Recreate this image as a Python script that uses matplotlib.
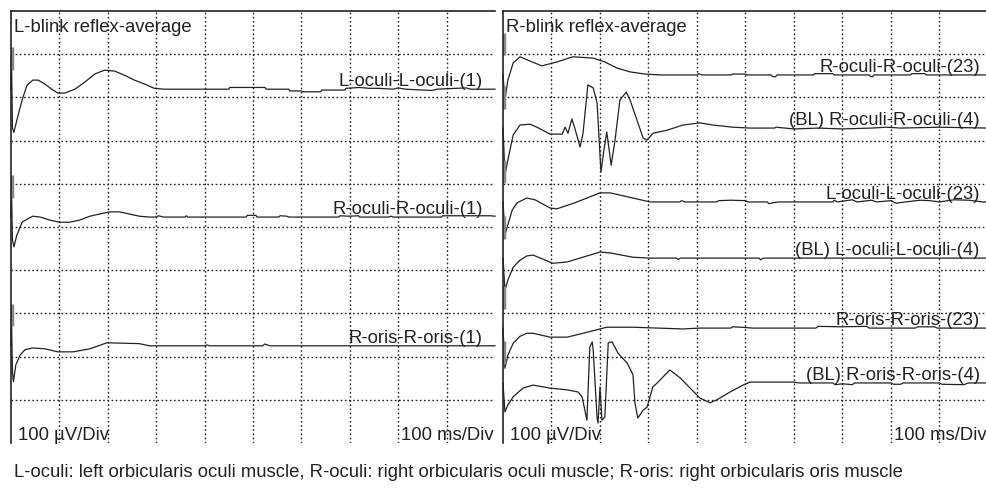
import matplotlib.pyplot as plt

plt.rcParams['font.family'] = ['Liberation Sans', 'DejaVu Sans']

# ---- waveform key points: time (ms) and amplitude (uV, relative to trace baseline) ----
# left panel: L-blink reflex-average
l_oculi_1_t = [1, 3, 6, 12, 23, 33, 45, 56, 70, 84, 97, 111, 132, 152, 173, 193, 214, 235, 255, 276, 296, 317,
               450, 452, 525, 527, 574, 576, 600, 602, 640, 642, 690, 692, 720, 740, 760, 790, 800, 815, 870, 880, 940, 950, 1000]
l_oculi_1_v = [67, -90, -100, -72, -25, 9, 21, 21, 12, 0, -9, -9, 0, 16, 35, 44, 42, 32, 21, 12, 2, 0,
               0, 4, 4, 0, 0, -4, -4, -6, -6, -2, -2, 2, 4, 2, 2, 0, 3, 0, -3, 0, 3, 0, 0]

r_oculi_1_t = [1, 3, 6, 12, 23, 33, 45, 60, 80, 101, 121, 142, 163, 183, 204, 224, 245, 265, 286,
               300, 305, 315, 360, 362, 365, 486, 488, 506, 508, 553, 556, 570, 574, 677, 680, 700, 718, 720, 780, 785, 790, 889, 892, 990, 1000]
r_oculi_1_v = [62, -53, -69, -42, -12, -5, 2, 0, -7, -12, -12, -7, 2, 7, 12, 12, 7, 2, 0,
               0, 3, 0, 0, 3, 0, 0, 4, 4, 0, 0, 3, 2, 0, 0, 3, 2, 3, 0, 0, 2, 0, 0, 3, 3, 2]

r_oris_1_t = [1, 3, 5, 10, 19, 29, 45, 70, 97, 128, 163, 198, 265, 286, 400, 405, 410, 520, 524, 530, 534, 1000]
r_oris_1_v = [60, -60, -83, -44, -21, -9, -5, -7, -14, -14, -7, 7, 5, 0, 0, 2, 0, 0, 4, 2, 0, 0]

# right panel: R-blink reflex-average
r_oculi_23_t = [4, 10, 21, 35, 56, 80, 111, 144, 186, 210, 235, 262, 293, 324, 400, 403, 410, 470, 473, 500, 503,
                553, 556, 562, 565, 640, 643, 680, 683, 755, 758, 762, 765, 840, 843, 870, 873, 1000]
r_oculi_23_v = [-58, -12, 28, 42, 32, 21, 30, 42, 39, 30, 16, 7, 2, 0, 0, 3, 0, 0, 2, 2, 0,
                0, -4, -4, 0, 0, 3, 3, 0, 0, -4, -4, 0, 0, 3, 3, 0, 0]

bl_r_oculi_4_t = [4, 10, 21, 35, 56, 70, 97, 122, 128, 134, 142, 148, 159, 165, 175, 186, 194, 202, 208, 214, 223, 231,
                  241, 254, 262, 276, 289, 297, 309, 338, 371, 406, 433, 474, 509, 560, 563, 600, 650, 700, 760, 790, 820, 900, 1000]
bl_r_oculi_4_v = [-109, -74, -16, 7, 9, 2, -14, -14, 2, -12, 21, 0, -44, -12, 100, 93, 58, -102, -51, -9, -86, -28,
                  65, 83, 65, 19, -23, -28, -12, -5, 7, 12, 7, 2, 0, 0, 2, -2, 0, -2, 0, 2, 0, 2, 0]

l_oculi_23_t = [4, 10, 19, 29, 49, 66, 97, 111, 148, 200, 221, 268, 303, 365, 368, 375, 440, 445, 470, 500, 505,
                545, 548, 556, 568, 680, 683, 690, 720, 730, 760, 770, 800, 810, 830, 860, 880, 900, 930, 960, 990, 1000]
l_oculi_23_v = [-76, -53, -19, -2, 9, 5, -14, -16, -2, 21, 21, 9, 0, 0, 3, 0, 0, 3, 4, 3, 0,
                0, -4, -2, 0, 0, 4, 0, 5, 0, 4, 0, 3, -3, 0, 4, 3, 0, 5, 4, 0, 0]

bl_l_oculi_4_t = [4, 10, 21, 35, 49, 62, 103, 132, 200, 221, 268, 303, 358, 361, 366, 528, 531, 537, 1000]
bl_l_oculi_4_v = [-74, -51, -21, -5, 5, 7, -12, -9, 14, 12, 2, 0, 0, -3, 0, 0, -4, 0, 0]

r_oris_23_t = [4, 10, 21, 35, 49, 62, 97, 132, 165, 214, 268, 371, 406, 470, 473, 490, 515,
               645, 650, 700, 750, 755, 850, 855, 890, 895, 1000]
r_oris_23_v = [-93, -63, -35, -19, -12, -12, -21, -21, -12, 2, 2, -2, 0, 0, 3, 2, 0,
               0, 4, 3, 4, 0, 0, 3, 3, 0, 0]

bl_r_oris_4_t = [4, 10, 21, 41, 62, 97, 132, 155, 163, 173, 179, 184, 186, 194, 196, 200, 204, 210, 217, 225, 237, 256,
                 268, 272, 278, 289, 297, 309, 318, 330, 344, 365, 386, 406, 427, 441, 468, 495, 509, 598, 612,
                 680, 685, 700, 720, 725, 800, 805, 820, 825, 900, 905, 950, 960, 1000]
bl_r_oris_4_v = [-67, -51, -32, -12, -5, -12, -16, -21, -32, -86, 83, 95, 76, -81, -93, -9, -86, -79, 93, 95, 69, 46,
                 19, -46, -81, -63, -56, -9, 0, 14, 30, 12, -12, -35, -46, -39, -21, -5, 2, 2, 0,
                 0, -4, -2, -4, 0, 0, -3, -3, 0, 0, -3, -4, 0, 0]

left_names = ['L-oculi-L-oculi-(1)', 'R-oculi-R-oculi-(1)', 'R-oris-R-oris-(1)']
right_names = ['R-oculi-R-oculi-(23)', '(BL) R-oculi-R-oculi-(4)', 'L-oculi-L-oculi-(23)',
               '(BL) L-oculi-L-oculi-(4)', 'R-oris-R-oris-(23)', '(BL) R-oris-R-oris-(4)']
left_traces = [(l_oculi_1_t, l_oculi_1_v), (r_oculi_1_t, r_oculi_1_v), (r_oris_1_t, r_oris_1_v)]
right_traces = [(r_oculi_23_t, r_oculi_23_v), (bl_r_oculi_4_t, bl_r_oculi_4_v), (l_oculi_23_t, l_oculi_23_v),
                (bl_l_oculi_4_t, bl_l_oculi_4_v), (r_oris_23_t, r_oris_23_v), (bl_r_oris_4_t, bl_r_oris_4_v)]

# where each trace sits on the 0-1000 uV screen
left_base = [819, 523, 225]
right_base = [852, 729, 558, 428, 266, 139]

caption = ('L-oculi: left orbicularis oculi muscle, R-oculi: right orbicularis oculi muscle; '
           'R-oris: right orbicularis oris muscle')

fs = 13.3
fig = plt.figure(figsize=(9.87, 4.88), dpi=100)
ax_l = fig.add_axes([11 / 987, 45 / 488, 484 / 987, 432 / 488])
ax_r = fig.add_axes([503 / 987, 45 / 488, 485 / 987, 432 / 488])

ink = '#222222'


def setup(ax, title, traces, bases, names, label_x):
    ax.set_xlim(0, 1000)
    ax.set_ylim(0, 1000)
    ax.set_xticks(range(100, 1000, 100))
    ax.set_yticks(range(100, 1000, 100))
    ax.tick_params(length=0, labelbottom=False, labelleft=False)
    ax.grid(True, color=ink, linestyle=(0, (1.2, 1.8)), linewidth=1.0)
    for s in ['right', 'bottom']:
        ax.spines[s].set_visible(False)
    for s in ['left', 'top']:
        ax.spines[s].set_color(ink)
        ax.spines[s].set_linewidth(1.2)

    for (t, v), b, name in zip(traces, bases, names):
        ax.plot([0] + t, [b] + [b + a for a in v], color=ink, lw=0.9, clip_on=False)
        ax.vlines(2, b + 45, b + 97, color='#888888', lw=2.5)
        ax.text(label_x, b + 7, name, ha='right', va='baseline', fontsize=fs, color=ink)

    ax.text(0.006, 0.951, title, transform=ax.transAxes, fontsize=fs, va='baseline', color=ink)
    ax.text(0.0144, 0.007, '100 µV/Div', transform=ax.transAxes, fontsize=fs, va='baseline', color=ink)
    ax.text(0.997, 0.007, '100 ms/Div', transform=ax.transAxes, fontsize=fs, va='baseline', ha='right', color=ink)


setup(ax_l, 'L-blink reflex-average', left_traces, left_base, left_names, 975)
setup(ax_r, 'R-blink reflex-average', right_traces, right_base, right_names, 983)

fig.text(14 / 987, 11 / 488, caption, fontsize=fs, va='baseline', color=ink)

fig.savefig('out.png', dpi=100)
